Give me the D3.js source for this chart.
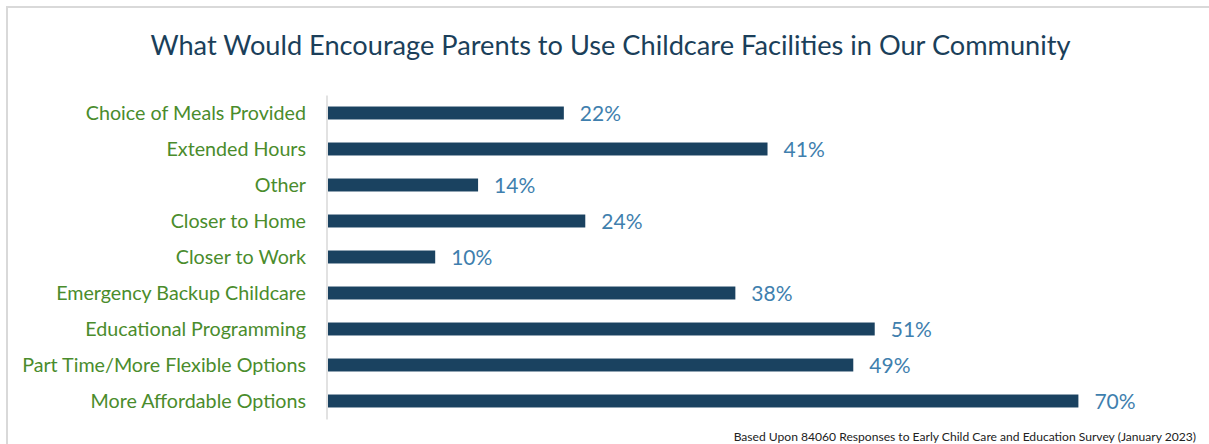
<!DOCTYPE html>
<html>
<head>
<meta charset="utf-8">
<script src="https://cdn.jsdelivr.net/npm/d3@7"></script>
<style>
  html, body { margin: 0; padding: 0; background: #fff; }
  svg { display: block; }
</style>
</head>
<body>
<svg id="chart" width="1209" height="444"></svg>
<script>
// Survey answers, top to bottom, and share of respondents (%)
const categories = [
  "Choice of Meals Provided",
  "Extended Hours",
  "Other",
  "Closer to Home",
  "Closer to Work",
  "Emergency Backup Childcare",
  "Educational Programming",
  "Part Time/More Flexible Options",
  "More Affordable Options"
];
const values = [22, 41, 14, 24, 10, 38, 51, 49, 70];

const title = "What Would Encourage Parents to Use Childcare Facilities in Our Community";
const footnote = "Based Upon 84060 Responses to Early Child Care and Education Survey (January 2023)";

const svg = d3.select("#chart");
const font = "Lato, 'Open Sans', sans-serif";

// frame around the chart area
svg.append("rect")
  .attr("x", 7).attr("y", 7)
  .attr("width", 1260).attr("height", 500)
  .attr("fill", "none")
  .attr("stroke", "#d9d9d9")
  .attr("stroke-width", 2);

const x = d3.scaleLinear().domain([0, 100]).range([328, 328 + 1072]);
const y = d3.scaleBand().domain(categories).range([95, 419]).paddingInner(0.64).paddingOuter(0.32);

// title
svg.append("text")
  .attr("x", 610.5).attr("y", 55)
  .attr("text-anchor", "middle")
  .attr("font-family", font)
  .attr("font-size", 27.2)
  .attr("fill", "#1b3f5a")
  .text(title);

// bars
svg.append("g").selectAll("rect")
  .data(values)
  .join("rect")
  .attr("x", x(0))
  .attr("y", (d, i) => y(categories[i]))
  .attr("width", d => x(d) - x(0))
  .attr("height", y.bandwidth())
  .attr("fill", "#1a4260");

// category axis
const axis = svg.append("g")
  .attr("transform", `translate(${x(0) - 1.5},0)`)
  .call(d3.axisLeft(y).tickSize(0).tickPadding(20.5));
axis.select(".domain").attr("stroke", "#d9d9d9").attr("stroke-width", 1.5);
axis.selectAll("text")
  .attr("dy", "0.35em")
  .attr("font-family", font)
  .attr("font-size", 19.7)
  .attr("fill", "#4a8c2c");

// value labels
svg.append("g").selectAll("text")
  .data(values)
  .join("text")
  .attr("x", d => x(d) + 16)
  .attr("y", (d, i) => y(categories[i]) + y.bandwidth() / 2)
  .attr("dy", "0.38em")
  .attr("font-family", font)
  .attr("font-size", 21)
  .attr("fill", "#3f7fae")
  .text(d => d + "%");

// source note
svg.append("text")
  .attr("x", 1196).attr("y", 441)
  .attr("text-anchor", "end")
  .attr("font-family", font)
  .attr("font-size", 12.1)
  .attr("fill", "#222")
  .text(footnote);
</script>
</body>
</html>
